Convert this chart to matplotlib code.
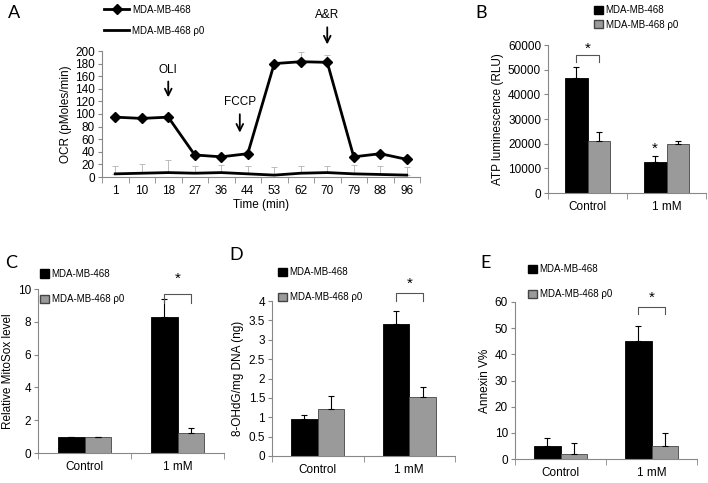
import numpy as np
import matplotlib.pyplot as plt
from matplotlib.patches import Patch
from matplotlib.lines import Line2D

plt.rcParams['font.family'] = ['Liberation Sans', 'DejaVu Sans']
plt.rcParams['font.size'] = 8

# panel A: OCR time course
times = ['1', '10', '18', '27', '36', '44', '53', '62', '70', '79', '88', '96']
ocr_wt = [95, 93, 95, 35, 32, 37, 180, 183, 182, 32, 37, 28]
ocr_wt_err = [4, 3, 3, 2, 2, 2, 3, 15, 11, 2, 2, 2]
ocr_r0 = [5, 6, 7, 6, 7, 5, 3, 6, 7, 5, 4, 3]
ocr_r0_err = [13, 14, 20, 12, 12, 13, 13, 12, 11, 14, 13, 13]

groups = ['Control', '1 mM']
# panel B: ATP
atp_wt = [46500, 12500]
atp_wt_err = [4500, 2700]
atp_r0 = [21000, 20000]
atp_r0_err = [3800, 1000]
# panel C: MitoSox
mito_wt = [1.0, 8.3]
mito_wt_err = [0, 1.1]
mito_r0 = [1.0, 1.25]
mito_r0_err = [0, 0.3]
# panel D: 8-OHdG
ohdg_wt = [0.95, 3.4]
ohdg_wt_err = [0.1, 0.33]
ohdg_r0 = [1.22, 1.53]
ohdg_r0_err = [0.33, 0.24]
# panel E: Annexin V
anx_wt = [5, 45]
anx_wt_err = [3, 6]
anx_r0 = [2, 5]
anx_r0_err = [4, 5]

W, H = 708, 483
fig = plt.figure(figsize=(W / 100, H / 100), dpi=100)


def box(l, r, t, b):
    return [l / W, 1 - b / H, (r - l) / W, (b - t) / H]


def style(ax):
    for s in ['top', 'right']:
        ax.spines[s].set_visible(False)
    for s in ['left', 'bottom']:
        ax.spines[s].set_color('#888888')
        ax.spines[s].set_linewidth(0.8)
    ax.tick_params(axis='y', direction='out', length=3, color='#888888', labelsize=8.5, pad=2)
    ax.tick_params(axis='x', which='major', length=0, labelsize=8.5, pad=6)
    ax.tick_params(axis='x', which='minor', direction='out', length=4, color='#888888')


GRAY = '#9a9a9a'

# ---- A ----
axA = fig.add_axes(box(102, 420, 51, 177))
x = np.arange(len(times))
axA.errorbar(x, ocr_r0, yerr=[np.zeros(len(x)), ocr_r0_err], fmt='none', ecolor='#bbbbbb',
             elinewidth=0.7, capsize=2.5, capthick=0.7)
axA.plot(x, ocr_r0, color='black', lw=2)
axA.errorbar(x, ocr_wt, yerr=[np.zeros(len(x)), ocr_wt_err], fmt='none', ecolor='#bbbbbb',
             elinewidth=0.7, capsize=2.5, capthick=0.7)
axA.plot(x, ocr_wt, color='black', lw=2, marker='D', ms=5.5)
axA.set_xlim(-0.5, len(times) - 0.5)
axA.set_ylim(0, 200)
axA.set_yticks(range(0, 201, 20))
axA.set_xticks(x)
axA.set_xticklabels(times)
axA.set_xticks(np.arange(-0.5, len(times)), minor=True)
style(axA)
axA.set_xlabel('Time (min)', fontsize=8.5, labelpad=1)
axA.set_ylabel('OCR (pMoles/min)', fontsize=8.5, labelpad=2)
arrow = dict(arrowstyle='->', color='black', lw=1.3, mutation_scale=12)
axA.annotate('', xy=(2, 122), xytext=(2, 156), arrowprops=arrow)
axA.text(2, 160, 'OLI', ha='center', va='bottom', fontsize=8.5)
axA.annotate('', xy=(4.7, 66), xytext=(4.7, 104), arrowprops=arrow)
axA.text(4.7, 110, 'FCCP', ha='center', va='bottom', fontsize=8.5)
axA.annotate('', xy=(8, 206), xytext=(8, 242), arrowprops=arrow, annotation_clip=False)
axA.text(8, 247, 'A&R', ha='center', va='bottom', fontsize=8.5, clip_on=False)
hA = [Line2D([], [], color='black', lw=2, marker='D', ms=5),
      Line2D([], [], color='black', lw=2)]
fig.legend(hA, ['MDA-MB-468', 'MDA-MB-468 \u03c10'], loc='upper left',
           bbox_to_anchor=(100 / W, 1 - 1 / H), frameon=False, fontsize=7,
           handlelength=2.6, handletextpad=0.3, labelspacing=1.1, borderaxespad=0)

label_kw = dict(fontsize=13, family=['Lato', 'DejaVu Sans'])
fig.text(8 / W, 1 - 13 / H, 'A', va='center', **label_kw)
fig.text(475 / W, 1 - 13 / H, 'B', va='center', **label_kw)
fig.text(5 / W, 1 - 263 / H, 'C', va='center', **label_kw)
fig.text(229 / W, 1 - 255 / H, 'D', va='center', **label_kw)
fig.text(480 / W, 1 - 263 / H, 'E', va='center', **label_kw)


def bars(rect, wt, wt_err, r0, r0_err, ylim, yticks, ylabel, fmt=None):
    ax = fig.add_axes(rect)
    xs = np.arange(len(groups))
    bw = 0.29
    ax.bar(xs - bw / 2, wt, bw, color='black', edgecolor='black', lw=0.6,
           yerr=[np.zeros(len(xs)), wt_err], error_kw=dict(elinewidth=0.8, capsize=2.5, capthick=0.8))
    ax.bar(xs + bw / 2, r0, bw, color=GRAY, edgecolor='#444444', lw=0.6,
           yerr=[np.zeros(len(xs)), r0_err], error_kw=dict(elinewidth=0.8, capsize=2.5, capthick=0.8))
    ax.set_xlim(-0.5, len(groups) - 0.5)
    ax.set_ylim(*ylim)
    ax.set_yticks(yticks)
    if fmt:
        ax.set_yticklabels([fmt(v) for v in yticks])
    ax.set_xticks(xs)
    ax.set_xticklabels(groups)
    ax.set_xticks(np.arange(-0.5, len(groups)), minor=True)
    style(ax)
    ax.set_ylabel(ylabel, fontsize=8.5, labelpad=3)
    return ax


def bracket(ax, xc, y0, y1, ystar):
    bw = 0.29
    ax.plot([xc - bw / 2, xc - bw / 2, xc + bw / 2, xc + bw / 2], [y0, y1, y1, y0],
            color='#555555', lw=0.8, clip_on=False)
    ax.text(xc, ystar, '*', ha='center', va='center', fontsize=11, clip_on=False)


sq = [Patch(facecolor='black', edgecolor='black'), Patch(facecolor=GRAY, edgecolor='#444444')]
leg_labels = ['MDA-MB-468', 'MDA-MB-468 \u03c10']

# ---- B ----
axB = bars(box(548, 706, 45, 193), atp_wt, atp_wt_err, atp_r0, atp_r0_err,
           (0, 60000), range(0, 60001, 10000), 'ATP luminescence (RLU)')
bracket(axB, 0, 53000, 56000, 58500)
axB.text(0 - 0.145 + 1, 18000, '*', ha='center', va='center', fontsize=11)
fig.legend(sq, leg_labels, loc='upper left', bbox_to_anchor=(590 / W, 1 - 1 / H), frameon=False,
           fontsize=7, handlelength=0.9, handleheight=0.9, handletextpad=0.3, labelspacing=0.5,
           borderaxespad=0)

# ---- C ----
axC = bars(box(38, 224, 289, 453), mito_wt, mito_wt_err, mito_r0, mito_r0_err,
           (0, 10), range(0, 11, 2), 'Relative MitoSox level')
bracket(axC, 1, 9.15, 9.7, 10.6)
fig.legend(sq, leg_labels, loc='upper left', bbox_to_anchor=(36 / W, 1 - 265 / H), frameon=False,
           fontsize=7, handlelength=0.9, handleheight=0.9, handletextpad=0.3, labelspacing=1.6,
           borderaxespad=0)

# ---- D ----
axD = bars(box(272, 455, 301, 456), ohdg_wt, ohdg_wt_err, ohdg_r0, ohdg_r0_err,
           (0, 4), np.arange(0, 4.01, 0.5), '8-OHdG/mg DNA (ng)', fmt=lambda v: f'{v:g}')
bracket(axD, 1, 4.0, 4.2, 4.45)
fig.legend(sq, leg_labels, loc='upper left', bbox_to_anchor=(274 / W, 1 - 263 / H), frameon=False,
           fontsize=7, handlelength=0.9, handleheight=0.9, handletextpad=0.3, labelspacing=1.6,
           borderaxespad=0)

# ---- E ----
axE = bars(box(515, 697, 302, 459), anx_wt, anx_wt_err, anx_r0, anx_r0_err,
           (0, 60), range(0, 61, 10), 'Annexin V%')
bracket(axE, 1, 55.4, 58, 61.5)
fig.legend(sq, leg_labels, loc='upper left', bbox_to_anchor=(524 / W, 1 - 260 / H), frameon=False,
           fontsize=7, handlelength=0.9, handleheight=0.9, handletextpad=0.3, labelspacing=1.6,
           borderaxespad=0)

fig.savefig('out.png', dpi=100)
